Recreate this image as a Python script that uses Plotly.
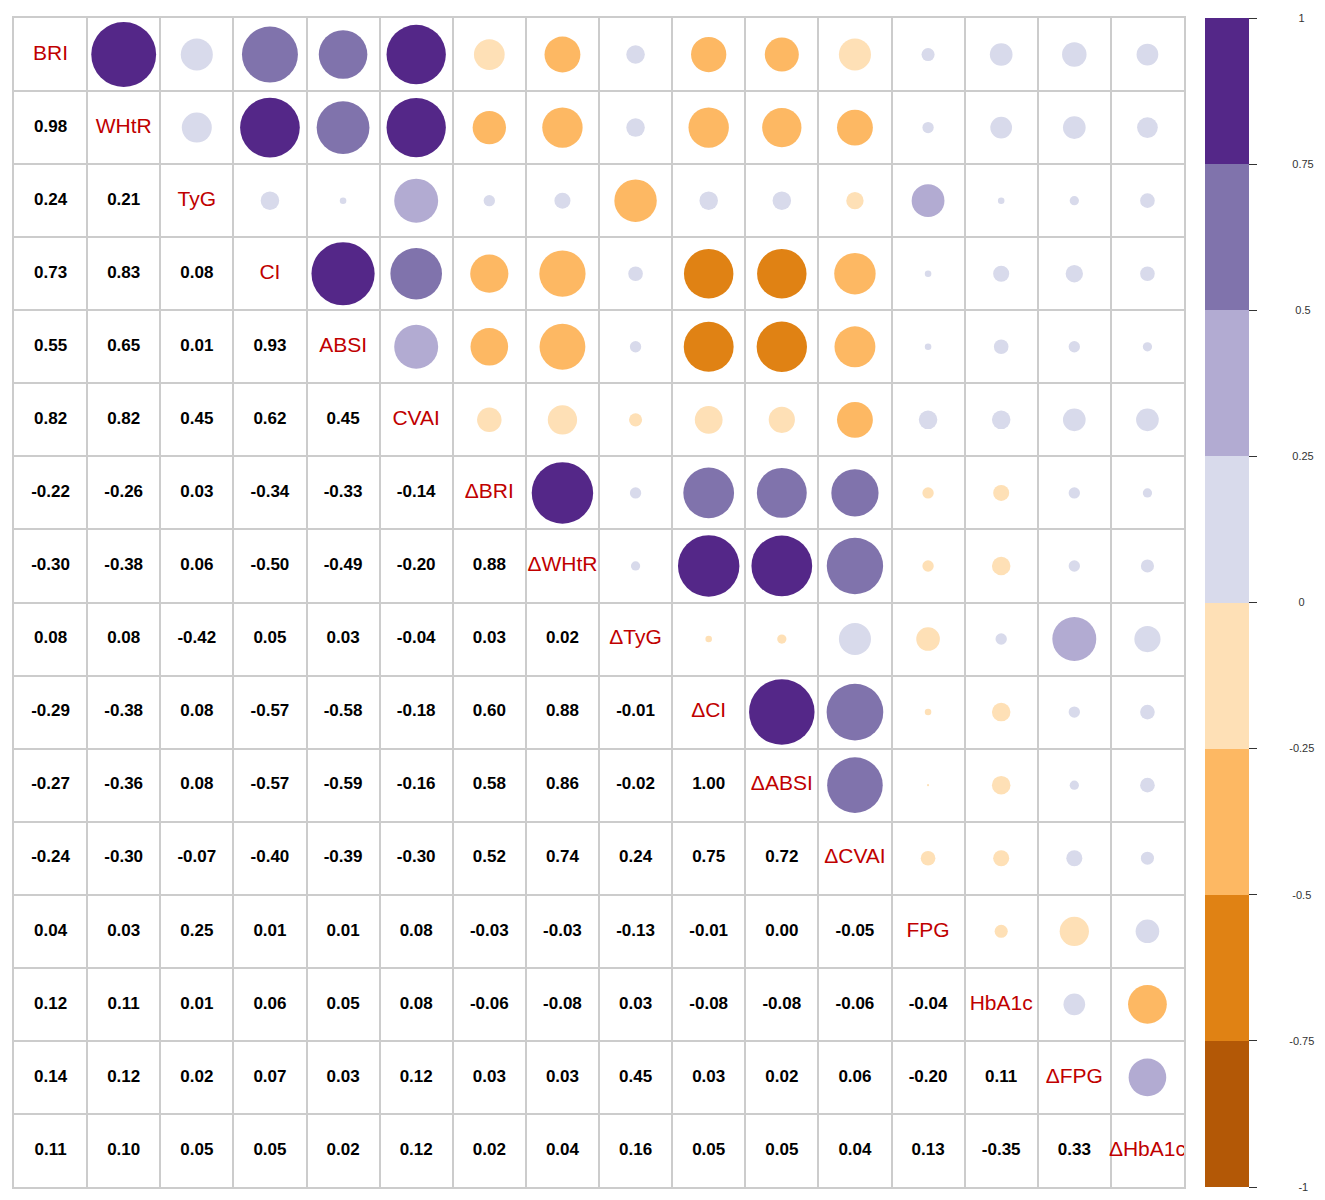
import plotly.graph_objects as go
import numpy as np

labels = ["BRI", "WHtR", "TyG", "CI", "ABSI", "CVAI", "ΔBRI", "ΔWHtR", "ΔTyG",
          "ΔCI", "ΔABSI", "ΔCVAI", "FPG", "HbA1c", "ΔFPG", "ΔHbA1c"]

# lower triangle, row by row (values below the diagonal)
lower = [
    [],
    [0.98],
    [0.24, 0.21],
    [0.73, 0.83, 0.08],
    [0.55, 0.65, 0.01, 0.93],
    [0.82, 0.82, 0.45, 0.62, 0.45],
    [-0.22, -0.26, 0.03, -0.34, -0.33, -0.14],
    [-0.30, -0.38, 0.06, -0.499, -0.49, -0.20, 0.88],
    [0.08, 0.08, -0.42, 0.05, 0.03, -0.04, 0.03, 0.02],
    [-0.29, -0.38, 0.08, -0.57, -0.58, -0.18, 0.60, 0.88, -0.01],
    [-0.27, -0.36, 0.08, -0.57, -0.59, -0.16, 0.58, 0.86, -0.02, 1.00],
    [-0.24, -0.30, -0.07, -0.40, -0.39, -0.30, 0.52, 0.74, 0.24, 0.749, 0.72],
    [0.04, 0.03, 0.251, 0.01, 0.01, 0.08, -0.03, -0.03, -0.13, -0.01, -0.001, -0.05],
    [0.12, 0.11, 0.01, 0.06, 0.05, 0.08, -0.06, -0.08, 0.03, -0.08, -0.08, -0.06, -0.04],
    [0.14, 0.12, 0.02, 0.07, 0.03, 0.12, 0.03, 0.03, 0.45, 0.03, 0.02, 0.06, -0.20, 0.11],
    [0.11, 0.10, 0.05, 0.05, 0.02, 0.12, 0.02, 0.04, 0.16, 0.05, 0.05, 0.04, 0.13, -0.35, 0.33],
]

puor = ["#B35806", "#E08214", "#FDB863", "#FEE0B6",
        "#D8DAEB", "#B2ABD2", "#8073AC", "#542788"]
cbar_vals = [1, 0.75, 0.5, 0.25, 0, -0.25, -0.5, -0.75, -1]
cbar_text = ["1", "0.75", "0.5", "0.25", "0", "-0.25", "-0.5", "-0.75", "-1"]

n = len(labels)
M = np.eye(n)
for i, row in enumerate(lower):
    for j, v in enumerate(row):
        M[i, j] = v
        M[j, i] = v

# stepped colour scale
cs = []
for k, c in enumerate(puor):
    cs.append([k / len(puor), c])
    cs.append([(k + 1) / len(puor), c])

def bin_color(v):
    k = int(np.floor((v + 1) / 2 * len(puor)))
    k = min(max(k, 0), len(puor) - 1)
    return puor[k]

def pad_label(t):
    # rough centring of the colourbar labels with leading spaces
    w = sum(3.1 if ch in ".-" else 6.1 for ch in t)
    return " " * int(round((44 - w / 2) / 3.1)) + t

fig = go.Figure()

# circles, upper triangle
cx, cy, cv = [], [], []
for i in range(n):
    for j in range(i + 1, n):
        cx.append(j + 1)
        cy.append(i + 1)
        cv.append(M[i, j])
cv = np.array(cv)
fig.add_trace(go.Scatter(
    x=cx, y=cy, mode="markers",
    marker=dict(size=65.5 * np.sqrt(np.abs(cv)),
                color=[bin_color(v) for v in cv],
                opacity=1, line=dict(width=0)),
    hoverinfo="skip", showlegend=False))

# numbers, lower triangle
tx, ty, tt = [], [], []
for i in range(n):
    for j in range(i):
        tx.append(j + 1)
        ty.append(i + 1)
        tt.append(f"{abs(M[i, j]):.2f}" if abs(M[i, j]) < 0.005 else f"{M[i, j]:.2f}")
fig.add_trace(go.Scatter(
    x=tx, y=ty, mode="text", text=tt,
    textfont=dict(family="Liberation Sans", size=17, color="black", weight="bold"),
    hoverinfo="skip", showlegend=False))

# diagonal labels
fig.add_trace(go.Scatter(
    x=list(range(1, n + 1)), y=list(range(1, n + 1)), mode="text", text=labels,
    textfont=dict(family="Liberation Sans", size=21, color="#C00000"),
    hoverinfo="skip", showlegend=False))

# colour bar
fig.add_trace(go.Scatter(
    x=[None], y=[None], mode="markers",
    marker=dict(color=[0], colorscale=cs, cmin=-1, cmax=1, showscale=True,
                colorbar=dict(x=1.018, xanchor="left", xpad=0, y=0.5, yanchor="middle",
                              len=1, ypad=0, thickness=44, outlinewidth=0,
                              tickvals=cbar_vals,
                              ticktext=[pad_label(t) for t in cbar_text],
                              ticks="outside", ticklen=8, tickcolor="#333333",
                              tickfont=dict(family="Liberation Sans", size=11, color="#333333"))),
    hoverinfo="skip", showlegend=False))

grid = [k + 0.5 for k in range(n + 1)]
axis_common = dict(tickvals=grid, showticklabels=False, ticks="", showgrid=True,
                   gridcolor="#CCCCCC", gridwidth=1.5, zeroline=False,
                   showline=True, mirror=True, linecolor="#CCCCCC", linewidth=1.5)
fig.update_xaxes(range=[0.5, n + 0.5], **axis_common)
fig.update_yaxes(range=[n + 0.5, 0.5], **axis_common)

fig.update_layout(width=1325, height=1200,
                  margin=dict(l=6, r=149, t=10, b=21),
                  plot_bgcolor="white", paper_bgcolor="white")

fig.write_html("out.html")
